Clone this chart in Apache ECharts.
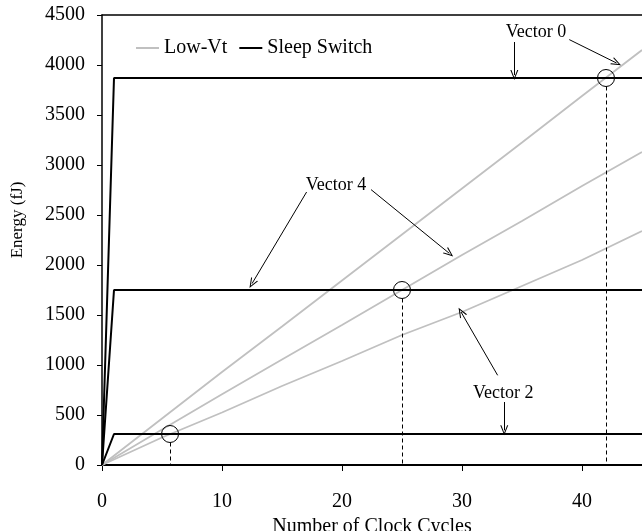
<!DOCTYPE html>
<html><head><meta charset="utf-8">
<script src="https://cdn.jsdelivr.net/npm/echarts@6/dist/echarts.min.js"></script>
<style>html,body{margin:0;padding:0;background:#fff}#c{width:642px;height:531px}</style>
</head><body><div id="c"></div>
<script>
// ---- data ----
const xTicks = [0, 10, 20, 30, 40];
const lowVtX = [0, 5, 10, 15, 20, 25, 30, 35, 40, 45];
const lowVt0 = [0, 465, 930, 1385, 1845, 2305, 2765, 3225, 3690, 4150];
const lowVt4 = [0, 355, 707, 1055, 1400, 1750, 2100, 2440, 2790, 3130];
const lowVt2 = [0, 275, 525, 790, 1040, 1300, 1530, 1790, 2050, 2340];
const sleepX = [0, 1, 45];
const sleep0 = [0, 3870, 3870];
const sleep4 = [0, 1750, 1750];
const sleep2 = [0, 310, 310];
const crossX = [42, 25, 5.67];
const crossY = [3870, 1750, 310];
const vecLabels = ['Vector 0', 'Vector 4', 'Vector 2'];

// ---- annotation placement (data coords) ----
const labelPos = [[36.17, 4330], [19.5, 2797], [33.44, 720]];
const arrows = [
  [[34.36, 4230], [34.36, 3900]],
  [[38.94, 4254], [42.88, 4020]],
  [[17.05, 2730], [12.5, 1814]],
  [[22.42, 2754], [28.94, 2117]],
  [[32.97, 897], [29.92, 1530]],
  [[33.52, 630], [33.52, 347]]
];

const FONT = 'Liberation Serif';
const GRAY = '#c0c0c0';
const zip = (xs, ys) => xs.map((x, i) => [x, ys[i]]);
const arrowHead = 'path://M5,0 L10,10 L8.6,10 L5,2.6 L1.4,10 L0,10 Z';

function lowSeries(ys) {
  return { name: 'Low-Vt', type: 'line', data: zip(lowVtX, ys), symbol: 'none',
    itemStyle: { color: GRAY }, lineStyle: { color: GRAY, width: 1.8 }, z: 2 };
}
function sleepSeries(ys, i) {
  return { name: 'Sleep Switch', type: 'line', data: zip(sleepX, ys), symbol: 'none',
    itemStyle: { color: '#000' }, lineStyle: { color: '#000', width: 2 }, z: 3,
    markPoint: { symbol: 'circle', symbolSize: 17, silent: true, animation: false,
      itemStyle: { color: 'rgba(0,0,0,0)', borderColor: '#000', borderWidth: 1 },
      label: { show: false },
      data: [{ coord: [crossX[i], crossY[i]] }] },
    markLine: { symbol: ['none', 'none'], silent: true, animation: false,
      lineStyle: { color: '#000', width: 1, type: [4, 3] }, label: { show: false },
      data: [[{ coord: [crossX[i], crossY[i] - 85] }, { coord: [crossX[i], 0] }]] }
  };
}

const annotSeries = {
  name: 'annot', type: 'line', data: [], z: 5,
  markLine: { symbol: ['none', arrowHead], symbolSize: [8, 10], silent: true, animation: false,
    lineStyle: { color: '#000', width: 1, type: 'solid' }, label: { show: false },
    data: arrows.map(a => [{ coord: a[0] }, { coord: a[1] }]) },
  markPoint: { symbol: 'rect', symbolSize: 1, silent: true, animation: false,
    itemStyle: { color: 'rgba(0,0,0,0)' },
    label: { show: true, position: 'inside', color: '#000', fontFamily: FONT, fontSize: 18,
      formatter: p => p.name },
    data: labelPos.map((p, i) => ({ name: vecLabels[i], coord: p })) }
};

const chart = echarts.init(document.getElementById('c'), null, { renderer: 'canvas' });
chart.setOption({
  animation: false,
  backgroundColor: '#fff',
  grid: { left: 102, top: 15, right: 0, bottom: 66, containLabel: false, outerBoundsMode: 'none' },
  legend: {
    data: ['Low-Vt', 'Sleep Switch'], left: 131, top: 33, icon: 'rect',
    itemWidth: 23, itemHeight: 2, itemGap: 12,
    textStyle: { fontFamily: FONT, fontSize: 20, color: '#000' }
  },
  xAxis: [{
    type: 'value', min: 0, max: 45, interval: 10,
    name: 'Number of Clock Cycles', nameLocation: 'middle', nameGap: 45,
    nameTextStyle: { fontFamily: FONT, fontSize: 20, color: '#000' },
    axisLine: { show: true, onZero: false, lineStyle: { color: '#000', width: 2 } },
    axisTick: { show: true, length: 6, customValues: xTicks, lineStyle: { color: '#000', width: 1 } },
    axisLabel: { customValues: xTicks, margin: 27, fontFamily: FONT, fontSize: 20, color: '#000',
      formatter: v => String(v) },
    splitLine: { show: false }
  }, {
    type: 'value', position: 'top', min: 0, max: 45,
    axisLine: { show: true, onZero: false, lineStyle: { color: '#000', width: 1.5 } },
    axisTick: { show: false }, axisLabel: { show: false }, splitLine: { show: false }
  }],
  yAxis: {
    type: 'value', min: 0, max: 4500, interval: 500,
    axisLine: { show: true, lineStyle: { color: '#000', width: 1.5 } },
    axisTick: { show: true, length: 5, lineStyle: { color: '#000', width: 1 } },
    axisLabel: { margin: 17, fontFamily: FONT, fontSize: 20, color: '#000',
      formatter: v => String(v) },
    splitLine: { show: false }
  },
  graphic: [{
    type: 'text', x: 18, y: 220, rotation: Math.PI / 2,
    style: { text: 'Energy (fJ)', fontFamily: FONT, fontSize: 17, fill: '#000',
      align: 'center', verticalAlign: 'middle' }
  }],
  series: [
    lowSeries(lowVt0), lowSeries(lowVt4), lowSeries(lowVt2),
    sleepSeries(sleep0, 0), sleepSeries(sleep4, 1), sleepSeries(sleep2, 2),
    annotSeries
  ]
});
</script></body></html>
